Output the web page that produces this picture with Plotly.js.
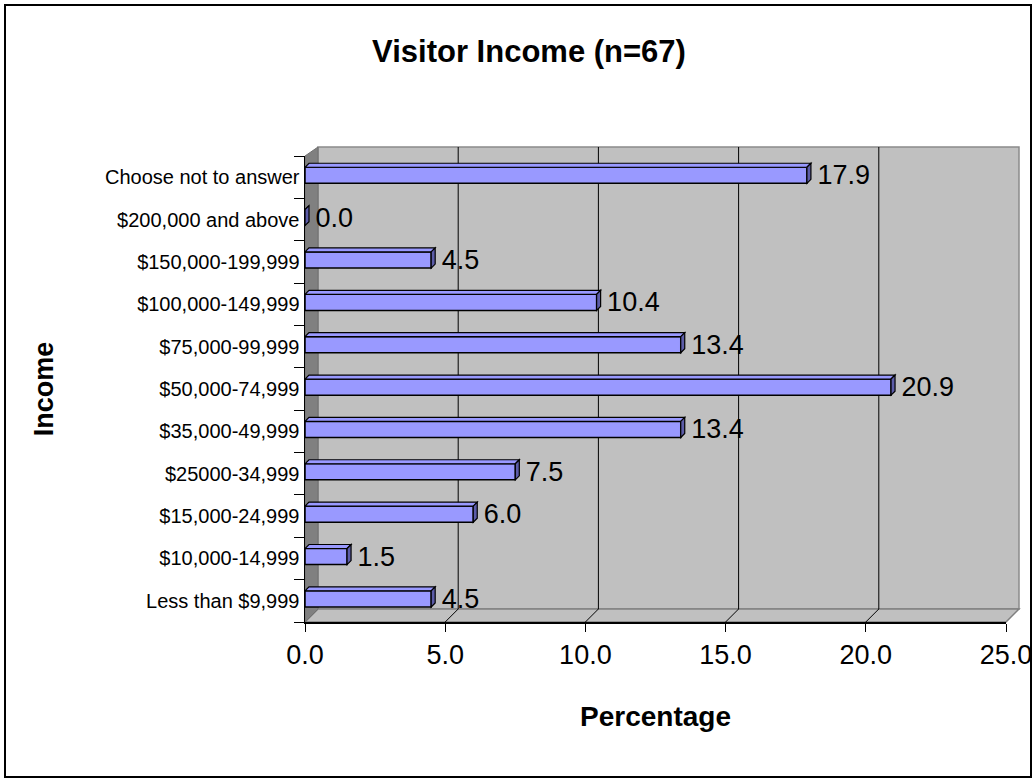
<!DOCTYPE html>
<html>
<head>
<meta charset="utf-8">
<script src="https://cdn.plot.ly/plotly-3.0.1.min.js"></script>
<style>
  html, body { margin: 0; padding: 0; background: #ffffff; }
  #chart { width: 1036px; height: 782px; }
</style>
</head>
<body>
<div id="chart"></div>
<script>
// ---- data ----
const categories = [
  "Less than $9,999",
  "$10,000-14,999",
  "$15,000-24,999",
  "$25000-34,999",
  "$35,000-49,999",
  "$50,000-74,999",
  "$75,000-99,999",
  "$100,000-149,999",
  "$150,000-199,999",
  "$200,000 and above",
  "Choose not to answer"
];
const percentages = [4.5, 1.5, 6.0, 7.5, 13.4, 20.9, 13.4, 10.4, 4.5, 0.0, 17.9];
const xTickValues = [0, 5, 10, 15, 20, 25];

const chartTitle = "Visitor Income (n=67)";
const xTitle = "Percentage";
const yTitle = "Income";

// ---- geometry / style ----
const W = 1036, H = 782;
const M = { l: 305, r: 30, t: 156, b: 160 };
const plotW = W - M.l - M.r;
const plotH = H - M.t - M.b;
const X = p => (p - M.l) / plotW;          // pixel -> paper x
const Y = p => (H - M.b - p) / plotH;      // pixel -> paper y
const depth = 13;                          // wall depth in px
const FONT = "Liberation Sans, Arial, sans-serif";

const barW = 0.38;
const barShift = 0.045;
const dx = 4 * 25 / plotW;                 // 4px in x units
const dy = 4 * 11 / plotH;                 // 4px in category units

const shapes = [];

// outer frame
shapes.push({ type: "rect", xref: "paper", yref: "paper",
  x0: X(5), x1: X(1031), y0: Y(777), y1: Y(5),
  line: { color: "#000", width: 2 }, fillcolor: "rgba(0,0,0,0)", layer: "below" });

// back wall
shapes.push({ type: "rect", xref: "paper", yref: "paper",
  x0: X(M.l + depth), x1: X(M.l + plotW + depth), y0: Y(622 - depth), y1: Y(147),
  line: { color: "#8a8a8a", width: 1.5 }, fillcolor: "#c0c0c0", layer: "below" });

// floor
shapes.push({ type: "path", xref: "paper", yref: "paper",
  path: `M ${X(M.l)},${Y(622)} L ${X(M.l + plotW)},${Y(622)} L ${X(M.l + plotW + depth)},${Y(622 - depth)} L ${X(M.l + depth)},${Y(622 - depth)} Z`,
  line: { color: "#808080", width: 1.5 }, fillcolor: "#c0c0c0", layer: "below" });

// left wall
shapes.push({ type: "path", xref: "paper", yref: "paper",
  path: `M ${X(M.l)},${Y(156)} L ${X(M.l + depth)},${Y(147)} L ${X(M.l + depth)},${Y(622 - depth)} L ${X(M.l)},${Y(622)} Z`,
  line: { color: "#707070", width: 1 }, fillcolor: "#808080", layer: "below" });

// gridlines on back wall with floor diagonals
xTickValues.filter(v => v > 0 && v < 25).forEach(v => {
  shapes.push({ type: "path", xref: "x", yref: "paper", xsizemode: "pixel", xanchor: v,
    path: `M 0,${Y(622)} L ${depth},${Y(622 - depth)} L ${depth},${Y(147)}`,
    line: { color: "#000", width: 1 }, layer: "below" });
});

// 3D faces of bars
percentages.forEach((v, i) => {
  const c = i + barShift, h = barW / 2;
  shapes.push({ type: "path", xref: "x", yref: "y",
    path: `M 0,${c + h} L ${v},${c + h} L ${v + dx},${c + h + dy} L ${dx},${c + h + dy} Z`,
    fillcolor: "#9999ff", line: { color: "#000", width: 1.2 }, layer: "above" });
  shapes.push({ type: "path", xref: "x", yref: "y",
    path: `M ${v},${c - h} L ${v + dx},${c - h + dy} L ${v + dx},${c + h + dy} L ${v},${c + h} Z`,
    fillcolor: "#5c5ca8", line: { color: "#000", width: 1.2 }, layer: "above" });
});

const trace = {
  type: "bar",
  orientation: "h",
  x: percentages,
  y: categories,
  width: barW,
  offset: -barW / 2 + barShift,
  marker: { color: "#9999ff", line: { color: "#000", width: 1.5 } },
  texttemplate: "\u00a0%{x:.1f}",
  textposition: "outside",
  constraintext: "none",
  cliponaxis: false,
  textfont: { family: FONT, size: 27, color: "#000" },
  hoverinfo: "x+y"
};

const layout = {
  width: W, height: H,
  margin: M,
  paper_bgcolor: "#ffffff",
  plot_bgcolor: "rgba(0,0,0,0)",
  showlegend: false,
  font: { family: FONT, color: "#000" },
  title: {
    text: "<b>" + chartTitle + "</b>",
    font: { family: FONT, size: 31, color: "#000" },
    xref: "container", yref: "container",
    x: 529 / W, y: 1 - 51 / H, xanchor: "center", yanchor: "middle"
  },
  xaxis: {
    range: [0, 25],
    tickvals: xTickValues,
    tickformat: ".1f",
    ticks: "outside", ticklen: 8, tickcolor: "#000", tickwidth: 1,
    showline: true, linecolor: "#000", linewidth: 1.5,
    showgrid: false, zeroline: false,
    tickfont: { family: FONT, size: 27, color: "#000" },
    title: { text: "<b>" + xTitle + "</b>", font: { family: FONT, size: 28, color: "#000" }, standoff: 37 }
  },
  yaxis: {
    type: "category",
    categoryorder: "array",
    categoryarray: categories,
    range: [-0.5, 10.5],
    tickson: "boundaries",
    ticks: "outside", ticklen: 10, tickcolor: "#000", tickwidth: 1,
    showline: true, linecolor: "#000", linewidth: 1.5,
    showgrid: false, zeroline: false,
    tickfont: { family: FONT, size: 20, color: "#000" },
    title: { text: "<b>" + yTitle + "</b>", font: { family: FONT, size: 27, color: "#000" }, standoff: 43 }
  },
  shapes: shapes
};

Plotly.newPlot("chart", [trace], layout, { displayModeBar: false, staticPlot: true });
</script>
</body>
</html>
